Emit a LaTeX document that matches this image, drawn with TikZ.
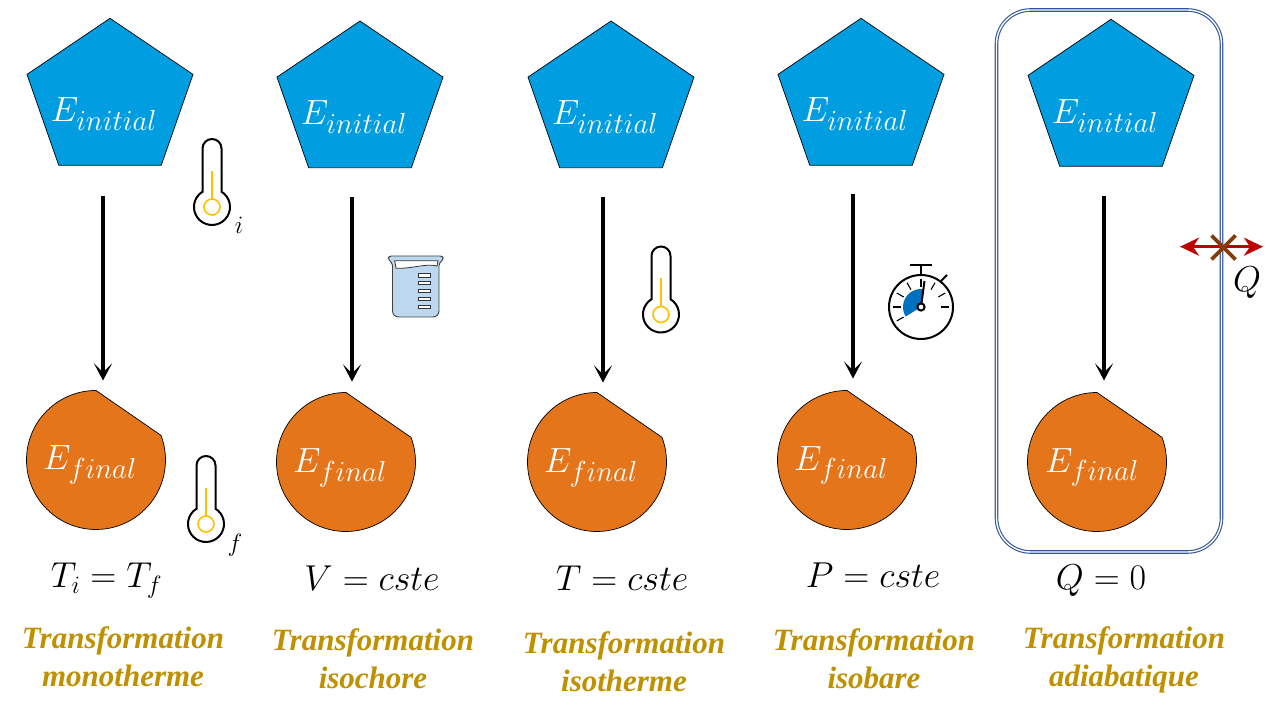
\documentclass[tikz,border=0pt]{standalone}
\usepackage{fix-cm}
\usepackage{fontspec}
\usepackage{xcolor}
\usepackage{tikz}
\usetikzlibrary{shapes.geometric, arrows.meta, positioning}
\newfontfamily\titrefont{Liberation Serif}
\DeclareMathSizes{35}{35}{29}{20}
\DeclareMathSizes{36}{36}{25}{18}
\definecolor{bleuetat}{RGB}{0,158,224}
\definecolor{orangeetat}{RGB}{228,117,26}
\definecolor{ortitre}{RGB}{191,144,0}
\definecolor{bleucadre}{RGB}{47,85,151}
\definecolor{bleubecher}{RGB}{189,215,238}
\definecolor{bleusecteur}{RGB}{0,112,192}
\definecolor{jauneth}{RGB}{255,192,0}
\definecolor{rougeq}{RGB}{192,0,0}
\definecolor{brunq}{RGB}{132,60,12}
\tikzset{
  etatinit/.style={regular polygon, regular polygon sides=5, draw=black, fill=bleuetat,
                   minimum size=174.6pt, inner sep=0pt, outer sep=0pt, yscale=0.93,
                   transform shape, line width=0.7pt},
  etatfin/.style={draw=black, fill=orangeetat, line width=0.7pt},
  ancre/.style={circle, minimum size=139pt, inner sep=0pt, outer sep=0pt},
  lblE/.style={text=white, inner sep=0pt, anchor=base, font=\fontsize{35}{42}\selectfont},
  eqn/.style={text=black, inner sep=0pt, anchor=base, font=\fontsize{36}{42}\selectfont},
  indice/.style={text=black, inner sep=0pt, font=\fontsize{25}{30}\selectfont},
  titre/.style={text=ortitre, align=center, inner sep=0pt,
                font=\titrefont\bfseries\itshape\fontsize{31}{38}\selectfont},
  fleche/.style={-{Stealth[length=17pt, width=18pt, inset=9pt]}, draw=black, line width=4pt},
  cadre/.style={rectangle, draw=bleucadre, double=white, double distance=1.4pt,
                line width=1.1pt, rounded corners=34pt, minimum width=225pt,
                minimum height=542pt, inner sep=0pt},
  flecheq/.style={{Stealth[length=19pt, width=18pt, inset=6pt]}-{Stealth[length=19pt, width=18pt, inset=6pt]},
                  draw=rougeq, line width=3pt},
  croix/.style={draw=brunq, line width=3.6pt},
  % final state: disc with a cut, (-c) names its circle
  etatfinal/.pic={
    \draw[etatfin] (90:69.5) arc[start angle=90, end angle=380.8, radius=69.5] -- cycle;
    \node[ancre] (-c) at (0,0) {};
  },
  thermo/.pic={
    \draw[black, line width=2pt, fill=white] (-9.5,15.3) -- (-9.5,58.5)
      arc[start angle=180, end angle=0, radius=9.5] -- (9.5,15.3)
      arc[start angle=58.1, end angle=-238.1, radius=18] -- cycle;
    \draw[jauneth, line width=1.6pt] (0,8) -- (0,36);
    \draw[jauneth, line width=1.6pt] (0,0) circle[radius=8];
  },
  grad/.style={draw=black!80, fill=white, line width=0.7pt},
  becher/.pic={
    \draw[black!75, fill=bleubecher, line width=0.9pt, rounded corners=1.5pt]
      (1.5,0) -- (54,0) -- (55.6,-2.5) -- (51,-8) [rounded corners=6pt] -- (51,-61) -- (4.5,-61)
      [rounded corners=1.5pt] -- (4.5,-8) -- (0,-2.5) -- cycle;
    \draw[black!80, fill=white, line width=0.8pt] (6.7,-4.7) -- (50,-4.7) -- (49,-10)
      .. controls (38,-7) and (24,-13) .. (8,-12.3) -- cycle;
    \draw[grad] (30,-17.6) rectangle (42,-21);
    \draw[grad] (30,-25.4) rectangle (42,-28.8);
    \draw[grad] (30,-33.4) rectangle (42,-36.8);
    \draw[grad] (30,-41.4) rectangle (42,-44.8);
    \draw[grad] (30,-49.4) rectangle (42,-52.8);
  },
  chrono/.pic={
    \fill[bleusecteur] (0,0) -- (85:18) arc[start angle=85, end angle=212, radius=18] -- cycle;
    \draw[black, line width=2pt] (0,0) circle[radius=32];
    \draw[black, line width=2pt] (-11,42) -- (11,42);
    \draw[black, line width=2pt] (0,42) -- (0,32);
    \draw[black, line width=2pt] (20,26) -- (26,32);
    \draw[black, line width=1.1pt] (90:20) -- (90:28);
    \draw[black, line width=1.1pt] (60:20) -- (60:28);
    \draw[black, line width=1.1pt] (30:20) -- (30:28);
    \draw[black, line width=1.1pt] (0:20) -- (0:28);
    \draw[black, line width=1.1pt] (120:20) -- (120:28);
    \draw[black, line width=1.1pt] (150:20) -- (150:28);
    \draw[black, line width=1.1pt] (180:20) -- (180:28);
    \draw[black, line width=1.1pt] (210:20) -- (210:28);
    \draw[black, line width=2pt] (0,0) -- (3.5,26);
    \draw[black, line width=2pt, fill=white] (0,0) circle[radius=3.6];
  },
}
\begin{document}
\begin{tikzpicture}[x=1pt, y=1pt]
  \useasboundingbox (0,0) rectangle (1280,720);

  % Initial states
  \node[etatinit] (ini1) at (110,620.5) {};
  \node[etatinit] (ini2) at (360,617.8) {};
  \node[etatinit] (ini3) at (611,617.8) {};
  \node[etatinit] (ini4) at (861,620.5) {};
  \node[etatinit] (ini5) at (1111,619.5) {};
  \node[lblE] (lini1) at (104,598) {$E_{initial}$};
  \node[lblE] (lini2) at (354,595) {$E_{initial}$};
  \node[lblE] (lini3) at (605,595) {$E_{initial}$};
  \node[lblE] (lini4) at (855,598) {$E_{initial}$};
  \node[lblE] (lini5) at (1105,596) {$E_{initial}$};

  % Final states
  \pic (fin1) at (96,260) {etatfinal};
  \pic (fin2) at (346,258) {etatfinal};
  \pic (fin3) at (597,258) {etatfinal};
  \pic (fin4) at (847,260) {etatfinal};
  \pic (fin5) at (1097,258) {etatfinal};
  \node[lblE] (lfin1) at (90,250) {$E_{final}$};
  \node[lblE] (lfin2) at (340,247) {$E_{final}$};
  \node[lblE] (lfin3) at (591,247) {$E_{final}$};
  \node[lblE] (lfin4) at (841,249.5) {$E_{final}$};
  \node[lblE] (lfin5) at (1092,247.7) {$E_{final}$};

  % Arrows (shifted off the centres, clear of the shapes)
  \draw[fleche] ([xshift=-7pt, yshift=-31pt]ini1.south) -- ([xshift=7pt, yshift=10pt]fin1-c.north);
  \draw[fleche] ([xshift=-8pt, yshift=-29pt]ini2.south) -- ([xshift=6pt, yshift=11pt]fin2-c.north);
  \draw[fleche] ([xshift=-8pt, yshift=-29pt]ini3.south) -- ([xshift=6pt, yshift=10pt]fin3-c.north);
  \draw[fleche] ([xshift=-8pt, yshift=-29pt]ini4.south) -- ([xshift=6pt, yshift=12pt]fin4-c.north);
  \draw[fleche] ([xshift=-7pt, yshift=-30pt]ini5.south) -- ([xshift=7pt, yshift=12pt]fin5-c.north);

  % Instruments
  \pic at (212,513) {thermo};
  \node[indice] (ti) at (239,495) {$i$};
  \pic at (206,196) {thermo};
  \node[indice] (tf) at (235,175) {$f$};
  \pic at (388,464) {becher};
  \pic at (661,405.5) {thermo};
  \pic at (921,413) {chrono};

  % Adiabatic wall and heat
  \node[cadre] (paroi) at (1109,439) {};
  \coordinate (qg) at ([yshift=34.3pt]paroi.east -| 1180,0);
  \coordinate (qd) at ([yshift=34.3pt]paroi.east -| 1263,0);
  \draw[flecheq] (qg) -- (qd);
  \coordinate (cr) at (1223.5,472.5);
  \draw[croix] ([shift={(-12,12)}]cr) -- ([shift={(12,-12)}]cr);
  \draw[croix] ([shift={(-12,-12)}]cr) -- ([shift={(12,12)}]cr);
  \node[eqn, anchor=center] (q) at (1247,437) {$Q$};

  % Conditions
  \node[eqn] (eq1) at (106.5,132) {$T_i=T_f$};
  \node[eqn] (eq2) at (372,129) {$V=cste$};
  \node[eqn] (eq3) at (622,129) {$T=cste$};
  \node[eqn] (eq4) at (873,132) {$P=cste$};
  \node[eqn] (eq5) at (1101,130) {$Q=0$};

  % Names
  \node[titre] (nom1) at (123,63) {Transformation\\monotherme};
  \node[titre] (nom2) at (373,61) {Transformation\\isochore};
  \node[titre] (nom3) at (624,58) {Transformation\\isotherme};
  \node[titre] (nom4) at (874,61) {Transformation\\isobare};
  \node[titre] (nom5) at (1124,60) {Transformation\\adiabatique};
\end{tikzpicture}
\end{document}
